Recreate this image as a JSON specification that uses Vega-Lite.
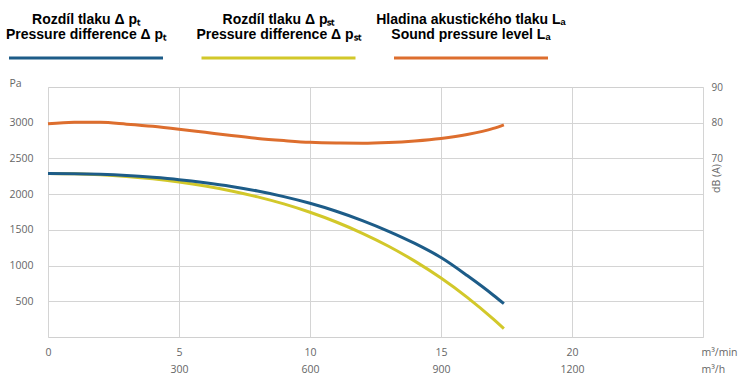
{
  "$schema": "https://vega.github.io/schema/vega-lite/v6.json",
  "padding": {"left": 5, "top": 0, "right": 5, "bottom": 5},
  "background": "white",
  "bounds": "flush",
  "spacing": 27,
  "config": {
    "view": {"stroke": "#d0d0d0", "strokeWidth": 1},
    "axis": {
      "domain": false,
      "ticks": false,
      "gridColor": "#d4d4d4",
      "gridWidth": 1,
      "labelFont": "Open Sans",
      "labelFontSize": 10.5,
      "labelColor": "#666666",
      "titleFont": "Open Sans",
      "titleFontWeight": "normal",
      "titleFontSize": 10.5,
      "titleColor": "#666666"
    }
  },
  "datasets": {
    "legend": [
      {"series": "pt", "label": "Rozdíl tlaku Δ pₜ\nPressure difference Δ pₜ"},
      {"series": "pst", "label": "Rozdíl tlaku Δ pₛₜ\nPressure difference Δ pₛₜ"},
      {"series": "LA", "label": "Hladina akustického tlaku Lₐ\nSound pressure level Lₐ"}
    ],
    "pressure": [
      {"series": "pst", "q": 0, "p": 2290},
      {"series": "pst", "q": 1, "p": 2285},
      {"series": "pst", "q": 2, "p": 2272},
      {"series": "pst", "q": 3, "p": 2248},
      {"series": "pst", "q": 4, "p": 2215},
      {"series": "pst", "q": 5, "p": 2170},
      {"series": "pst", "q": 6, "p": 2114},
      {"series": "pst", "q": 7, "p": 2045},
      {"series": "pst", "q": 8, "p": 1962},
      {"series": "pst", "q": 9, "p": 1863},
      {"series": "pst", "q": 10, "p": 1746},
      {"series": "pst", "q": 11, "p": 1610},
      {"series": "pst", "q": 12, "p": 1452},
      {"series": "pst", "q": 13, "p": 1271},
      {"series": "pst", "q": 14, "p": 1062},
      {"series": "pst", "q": 15, "p": 825},
      {"series": "pst", "q": 16, "p": 555},
      {"series": "pst", "q": 17, "p": 250},
      {"series": "pst", "q": 17.4, "p": 117},
      {"series": "pt", "q": 0, "p": 2290},
      {"series": "pt", "q": 1, "p": 2287},
      {"series": "pt", "q": 2, "p": 2277},
      {"series": "pt", "q": 3, "p": 2260},
      {"series": "pt", "q": 4, "p": 2235},
      {"series": "pt", "q": 5, "p": 2203},
      {"series": "pt", "q": 6, "p": 2160},
      {"series": "pt", "q": 7, "p": 2108},
      {"series": "pt", "q": 8, "p": 2043},
      {"series": "pt", "q": 9, "p": 1965},
      {"series": "pt", "q": 10, "p": 1872},
      {"series": "pt", "q": 11, "p": 1761},
      {"series": "pt", "q": 12, "p": 1630},
      {"series": "pt", "q": 13, "p": 1480},
      {"series": "pt", "q": 14, "p": 1310},
      {"series": "pt", "q": 15, "p": 1112},
      {"series": "pt", "q": 16, "p": 860},
      {"series": "pt", "q": 17, "p": 585},
      {"series": "pt", "q": 17.4, "p": 466}
    ],
    "sound": [
      {"series": "LA", "q": 0, "db": 79.7},
      {"series": "LA", "q": 1, "db": 80.15},
      {"series": "LA", "q": 2, "db": 80.1},
      {"series": "LA", "q": 3, "db": 79.6},
      {"series": "LA", "q": 4, "db": 79.0},
      {"series": "LA", "q": 5, "db": 78.2},
      {"series": "LA", "q": 6, "db": 77.3},
      {"series": "LA", "q": 7, "db": 76.4},
      {"series": "LA", "q": 8, "db": 75.6},
      {"series": "LA", "q": 9, "db": 75.0},
      {"series": "LA", "q": 10, "db": 74.5},
      {"series": "LA", "q": 11, "db": 74.3},
      {"series": "LA", "q": 12, "db": 74.25},
      {"series": "LA", "q": 13, "db": 74.45},
      {"series": "LA", "q": 14, "db": 74.9},
      {"series": "LA", "q": 15, "db": 75.6},
      {"series": "LA", "q": 16, "db": 76.7},
      {"series": "LA", "q": 17, "db": 78.4},
      {"series": "LA", "q": 17.4, "db": 79.4}
    ]
  },
  "vconcat": [
    {
      "width": 461,
      "height": 60,
      "view": {"stroke": null},
      "data": {"name": "legend"},
      "layer": [
        {
          "mark": {"type": "text", "font": "Liberation Sans", "fontWeight": "bold", "fontSize": 14, "lineBreak": "\n", "lineHeight": 15.5, "dy": -10.5, "fill": "#000000", "align": "center", "baseline": "middle"},
          "encoding": {
            "x": {"field": "series", "type": "nominal", "sort": ["pt", "pst", "LA"], "scale": {"type": "point", "padding": 0.1974}, "axis": null},
            "text": {"field": "label"}
          }
        },
        {
          "mark": {"type": "rule", "strokeWidth": 3, "xOffset": -77, "x2Offset": 77, "yOffset": 28},
          "encoding": {
            "x": {"field": "series", "type": "nominal", "sort": ["pt", "pst", "LA"], "scale": {"type": "point", "padding": 0.1974}, "axis": null},
            "x2": {"field": "series"},
            "color": {"field": "series", "type": "nominal", "scale": {"domain": ["pt", "pst", "LA"], "range": ["#1d5c88", "#d2c82a", "#dd6e2e"]}, "legend": null}
          }
        }
      ]
    },
    {
      "width": 655,
      "height": 250,
      "layer": [
        {
          "data": {"name": "pressure"},
          "mark": {"type": "line", "strokeWidth": 3, "interpolate": "monotone"},
          "encoding": {
            "x": {
              "field": "q", "type": "quantitative",
              "scale": {"domain": [0, 25], "nice": false, "zero": false},
              "axis": {
                "title": null,
                "grid": true,
                "values": [0, 5, 10, 15, 20, 25],
                "labelExpr": "datum.value == 25 ? ['m³/min', 'm³/h'] : (datum.value == 0 ? ['0', ''] : [datum.label, format(datum.value * 60, 'd')])",
                "labelAlign": {"condition": {"test": "datum.value == 25", "value": "left"}, "value": "center"},
                "labelOffset": {"condition": {"test": "datum.value == 25", "value": -2}, "value": 0},
                "labelBaseline": "top",
                "labelLineHeight": 17.6,
                "labelPadding": 10,
                "labelOverlap": false,
                "labelBound": false,
                "labelFlush": false
              }
            },
            "y": {
              "field": "p", "type": "quantitative",
              "scale": {"domain": [0, 3500], "nice": false},
              "axis": {
                "title": "Pa",
                "format": "d",
                "grid": true,
                "values": [500, 1000, 1500, 2000, 2500, 3000],
                "labelPadding": 15,
                "titleAngle": 0,
                "titleAlign": "left",
                "titleBaseline": "middle",
                "titleX": -39,
                "titleY": -4
              }
            },
            "color": {"field": "series", "type": "nominal", "scale": {"domain": ["pt", "pst", "LA"], "range": ["#1d5c88", "#d2c82a", "#dd6e2e"]}, "legend": null}
          }
        },
        {
          "data": {"name": "sound"},
          "mark": {"type": "line", "strokeWidth": 3, "interpolate": "monotone"},
          "encoding": {
            "x": {"field": "q", "type": "quantitative"},
            "y": {
              "field": "db", "type": "quantitative",
              "scale": {"domain": [20, 90], "nice": false, "zero": false},
              "axis": {
                "orient": "right",
                "title": "dB (A)",
                "grid": false,
                "values": [70, 80, 90],
                "labelPadding": 8,
                "labelFontSize": 10,
                "titleAngle": 270,
                "titleAlign": "center",
                "titleBaseline": "middle",
                "titleX": 13,
                "titleY": 91
              }
            },
            "color": {"field": "series", "type": "nominal", "scale": {"domain": ["pt", "pst", "LA"], "range": ["#1d5c88", "#d2c82a", "#dd6e2e"]}, "legend": null}
          }
        }
      ],
      "resolve": {"scale": {"y": "independent"}}
    }
  ]
}
